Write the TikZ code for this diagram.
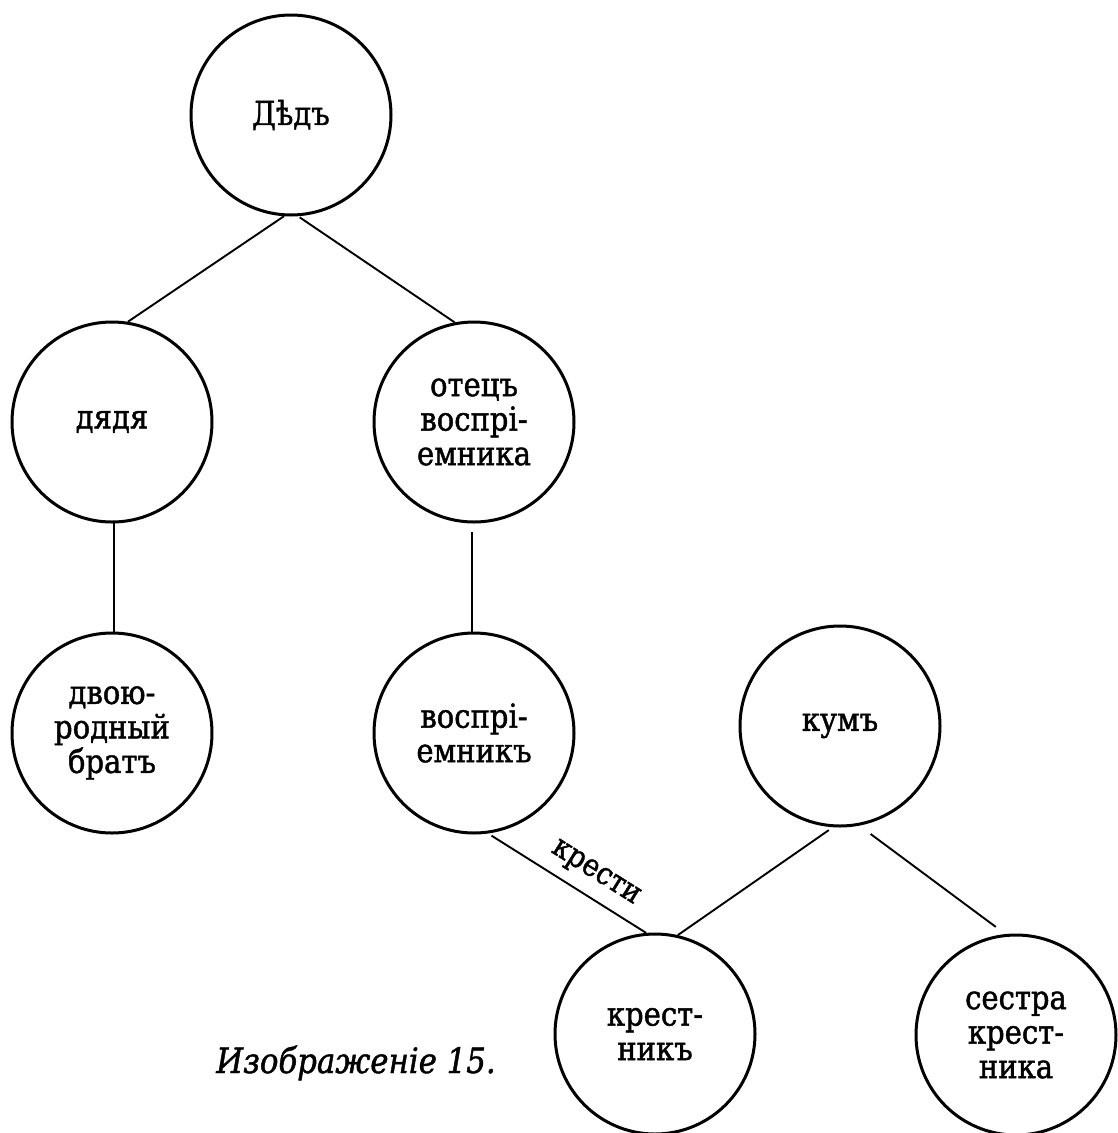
\documentclass[tikz,border=0pt]{standalone}
\usepackage{fontspec}
\setmainfont{DejaVu Serif}[FakeStretch=0.88, FakeBold=1.3]
\begin{document}
\begin{tikzpicture}[x=1pt,y=-1pt,
  person/.style={circle, draw, line width=3pt, minimum size=200pt, inner sep=0pt,
    align=center, font=\fontsize{33}{34.5}\selectfont},
  conn/.style={line width=1.9pt},
  lbl/.style={font=\fontsize{31}{34}\selectfont}]
\fill[white] (0,0) rectangle (1117,1133);
\useasboundingbox (0,0) rectangle (1117,1133);
\node[person] (A) at (291,115) {Дѣдъ};
\node[person] (B) at (112,422) {дядя};
\node[person] (C) at (474,422) {отецъ\\воспрі-\\емника};
\node[person] (D) at (112,733) {двою-\\родный\\братъ};
\node[person] (E) at (474,733) {воспрі-\\емникъ};
\node[person] (F) at (840,726) {кумъ};
\node[person] (G) at (655,1034) {крест-\\никъ};
\node[person] (H) at (1016,1035) {сестра\\крест-\\ника};
\draw[conn] (A.266) -- (B.81);
\draw[conn, shorten <=2pt] (A.274) -- (C.101);
\draw[conn] (B.271) -- (D.89);
\draw[conn, shorten <=9pt] (C.269) -- (E.91);
\draw[conn, shorten <=4pt] (E.-82) -- node[lbl, sloped, above=7pt, pos=0.6] (k) {крести} (G.95);
\draw[conn, shorten <=5pt] (F.-94) -- (G.77);
\draw[conn, shorten <=14pt, shorten >=12pt] (F.-79) -- (H.96);
\node[font=\itshape\fontsize{35}{38}\selectfont, anchor=base] (cap) at (356,1073) {Изображенiе 15.};
\end{tikzpicture}
\end{document}
